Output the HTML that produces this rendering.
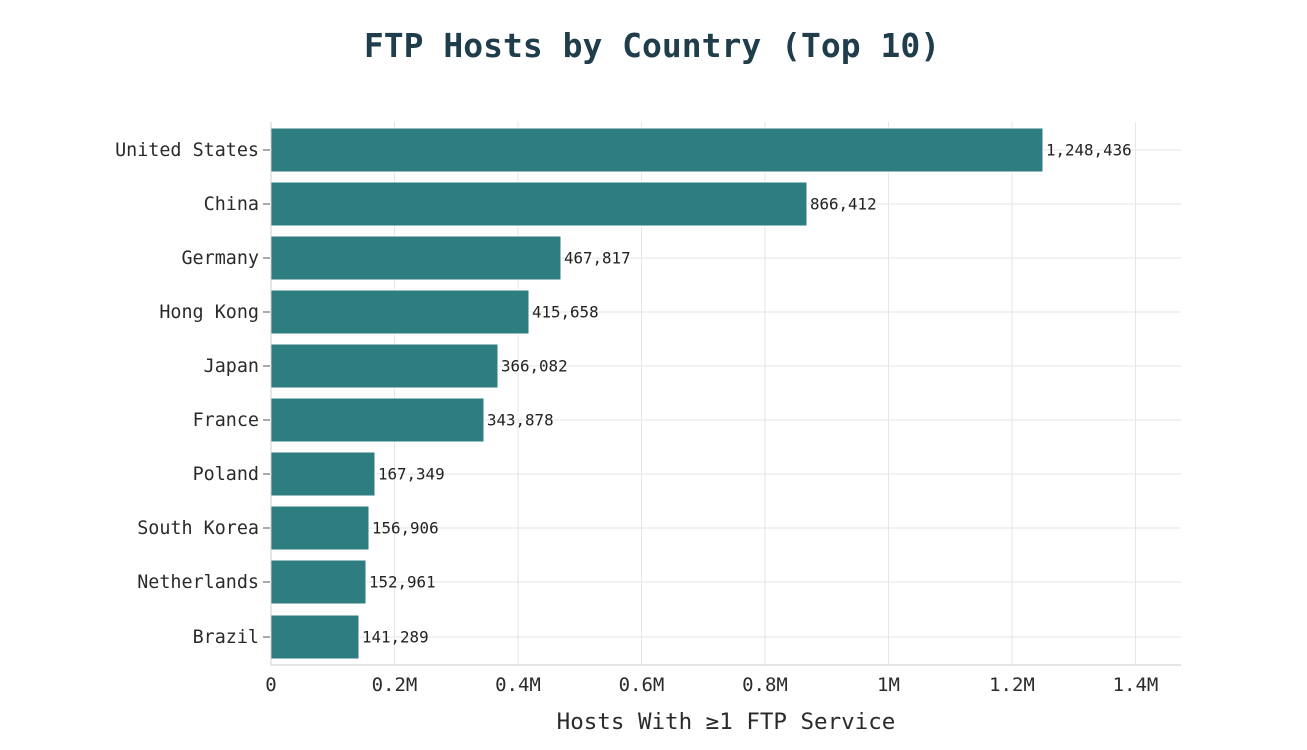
<!DOCTYPE html>
<html><head><meta charset="utf-8"><style>
html,body{margin:0;padding:0;background:#fff;}
svg{display:block;font-family:"DejaVu Sans Mono","Liberation Mono",monospace;}
</style></head><body>
<svg width="1307" height="750" viewBox="0 0 1307 750" xmlns="http://www.w3.org/2000/svg">
<text x="652" y="57" text-anchor="middle" font-size="33" font-weight="bold" fill="#1f3d4a">FTP Hosts by Country (Top 10)</text>
<g stroke="#e6e6e6" stroke-width="1">
<line x1="394.5" y1="122" x2="394.5" y2="665"/>
<line x1="518" y1="122" x2="518" y2="665"/>
<line x1="641.5" y1="122" x2="641.5" y2="665"/>
<line x1="765" y1="122" x2="765" y2="665"/>
<line x1="888.5" y1="122" x2="888.5" y2="665"/>
<line x1="1012" y1="122" x2="1012" y2="665"/>
<line x1="1135.5" y1="122" x2="1135.5" y2="665"/>
<line x1="271" y1="150" x2="1181" y2="150"/><line x1="271" y1="204" x2="1181" y2="204"/>
<line x1="271" y1="258" x2="1181" y2="258"/><line x1="271" y1="312" x2="1181" y2="312"/>
<line x1="271" y1="366" x2="1181" y2="366"/><line x1="271" y1="420" x2="1181" y2="420"/>
<line x1="271" y1="474" x2="1181" y2="474"/><line x1="271" y1="528" x2="1181" y2="528"/>
<line x1="271" y1="582" x2="1181" y2="582"/><line x1="271" y1="637" x2="1181" y2="637"/>
</g>
<g fill="#2e7d80" stroke="#fff" stroke-width="1">
<rect x="271" y="128" width="772" height="44"/>
<rect x="271" y="182" width="536" height="44"/>
<rect x="271" y="236" width="290" height="44"/>
<rect x="271" y="290" width="258" height="44"/>
<rect x="271" y="344" width="227" height="44"/>
<rect x="271" y="398" width="213" height="44"/>
<rect x="271" y="452" width="104" height="44"/>
<rect x="271" y="506" width="98" height="44"/>
<rect x="271" y="560" width="95" height="44"/>
<rect x="271" y="615" width="88" height="44"/>
</g>
<g font-size="15.8" fill="#222">
<text x="1046" y="155.5">1,248,436</text>
<text x="810" y="209.5">866,412</text>
<text x="564" y="263.5">467,817</text>
<text x="532" y="317.5">415,658</text>
<text x="501" y="371.5">366,082</text>
<text x="487" y="425.5">343,878</text>
<text x="378" y="479.5">167,349</text>
<text x="372" y="533.5">156,906</text>
<text x="369" y="587.5">152,961</text>
<text x="362" y="642.5">141,289</text>
</g>
<g stroke="#555" stroke-width="1">
<line x1="263" y1="150" x2="270" y2="150"/><line x1="263" y1="204" x2="270" y2="204"/>
<line x1="263" y1="258" x2="270" y2="258"/><line x1="263" y1="312" x2="270" y2="312"/>
<line x1="263" y1="366" x2="270" y2="366"/><line x1="263" y1="420" x2="270" y2="420"/>
<line x1="263" y1="474" x2="270" y2="474"/><line x1="263" y1="528" x2="270" y2="528"/>
<line x1="263" y1="582" x2="270" y2="582"/><line x1="263" y1="637" x2="270" y2="637"/>
</g>
<g font-size="18.4" fill="#2a2a2a" text-anchor="end">
<text x="259" y="156">United States</text>
<text x="259" y="210">China</text>
<text x="259" y="264">Germany</text>
<text x="259" y="318">Hong Kong</text>
<text x="259" y="372">Japan</text>
<text x="259" y="426">France</text>
<text x="259" y="480">Poland</text>
<text x="259" y="534">South Korea</text>
<text x="259" y="588">Netherlands</text>
<text x="259" y="643">Brazil</text>
</g>
<line x1="271" y1="122" x2="271" y2="665" stroke="#ccc"/>
<line x1="271" y1="665" x2="1181" y2="665" stroke="#ccc"/>
<g font-size="19" fill="#2a2a2a" text-anchor="middle">
<text x="271" y="691">0</text>
<text x="394.5" y="691">0.2M</text>
<text x="518" y="691">0.4M</text>
<text x="641.5" y="691">0.6M</text>
<text x="765" y="691">0.8M</text>
<text x="888.5" y="691">1M</text>
<text x="1012" y="691">1.2M</text>
<text x="1135.5" y="691">1.4M</text>
</g>
<text x="726" y="729" text-anchor="middle" font-size="22.5" fill="#2a2a2a">Hosts With ≥1 FTP Service</text>
</svg>
</body></html>
